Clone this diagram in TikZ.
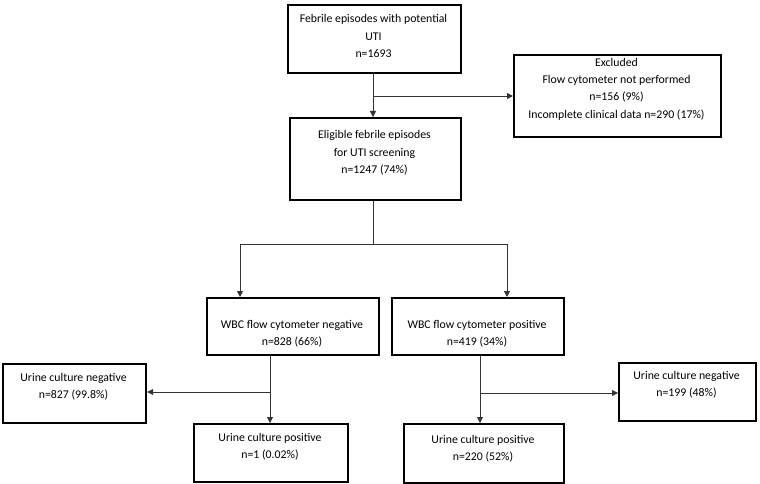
\documentclass[tikz,border=0pt]{standalone}
\usepackage{fontspec}
\setmainfont{Carlito}
\usetikzlibrary{arrows.meta}
\begin{document}
\begin{tikzpicture}[x=1pt,y=-1pt,
  box/.style={draw=black,line width=2.2pt,minimum width=#1,inner sep=0pt,anchor=north west},
  lbl/.style={anchor=north,inner sep=0pt,align=center,font=\fontsize{11.8}{17.3}\selectfont},
  arr/.style={line width=0.8pt,draw=black!80,-{Triangle[length=6pt,width=6pt]}},
  ln/.style={line width=0.8pt,draw=black!80}]
\useasboundingbox (0,0) rectangle (760,484);
% boxes
\node[box=173pt,minimum height=68pt] (b1) at (287,4) {};
\node[box=207pt,minimum height=82pt] (ex) at (513,54) {};
\node[box=171pt,minimum height=82pt] (b2) at (289,117) {};
\node[box=172pt,minimum height=57pt] (neg) at (206,297) {};
\node[box=172pt,minimum height=57pt] (pos) at (391,297) {};
\node[box=143pt,minimum height=59pt] (ul) at (2,363) {};
\node[box=154pt,minimum height=58pt] (pl) at (193,423) {};
\node[box=137pt,minimum height=58pt] (ur) at (618,362) {};
\node[box=160pt,minimum height=59pt] (pr) at (403,423) {};
% texts
\node[lbl] (t1) at (373.5,14.5) {Febrile episodes with potential\\UTI\\n=1693};
\node[lbl] (tex) at (616.5,58) {Excluded\\Flow cytometer not performed\\n=156 (9\%)\\Incomplete clinical data n=290 (17\%)};
\node[lbl] (t2) at (374.5,130.5) {Eligible febrile episodes\\for UTI screening\\n=1247 (74\%)};
\node[lbl] (tneg) at (292,320) {WBC flow cytometer negative\\n=828 (66\%)};
\node[lbl] (tpos) at (477,320) {WBC flow cytometer positive\\n=419 (34\%)};
\node[lbl] (tul) at (73.5,373) {Urine culture negative\\n=827 (99.8\%)};
\node[lbl] (tpl) at (270,433) {Urine culture positive\\n=1 (0.02\%)};
\node[lbl] (tur) at (686.5,371) {Urine culture negative\\n=199 (48\%)};
\node[lbl] (tpr) at (483,435) {Urine culture positive\\n=220 (52\%)};
% junctions
\coordinate (j1) at (373,96);
\coordinate (j2) at (373,244);
\coordinate (j2l) at (240,244);
\coordinate (j2r) at (507,244);
\coordinate (j3) at (270,392);
\coordinate (j4) at (480,393);
% connectors
\draw[arr] (j1 |- b1.south) -- (j1 |- b2.north);
\draw[arr] (j1) -- (j1 -| ex.west);
\draw[ln] (j2 |- b2.south) -- (j2);
\draw[ln] (j2l) -- (j2r);
\draw[arr] (j2l) -- (j2l |- neg.north);
\draw[arr] (j2r) -- (j2r |- pos.north);
\draw[arr] (j3 |- neg.south) -- (j3 |- pl.north);
\draw[arr] (j3) -- (j3 -| ul.east);
\draw[arr] (j4 |- pos.south) -- (j4 |- pr.north);
\draw[arr] (j4) -- (j4 -| ur.west);
\end{tikzpicture}
\end{document}
